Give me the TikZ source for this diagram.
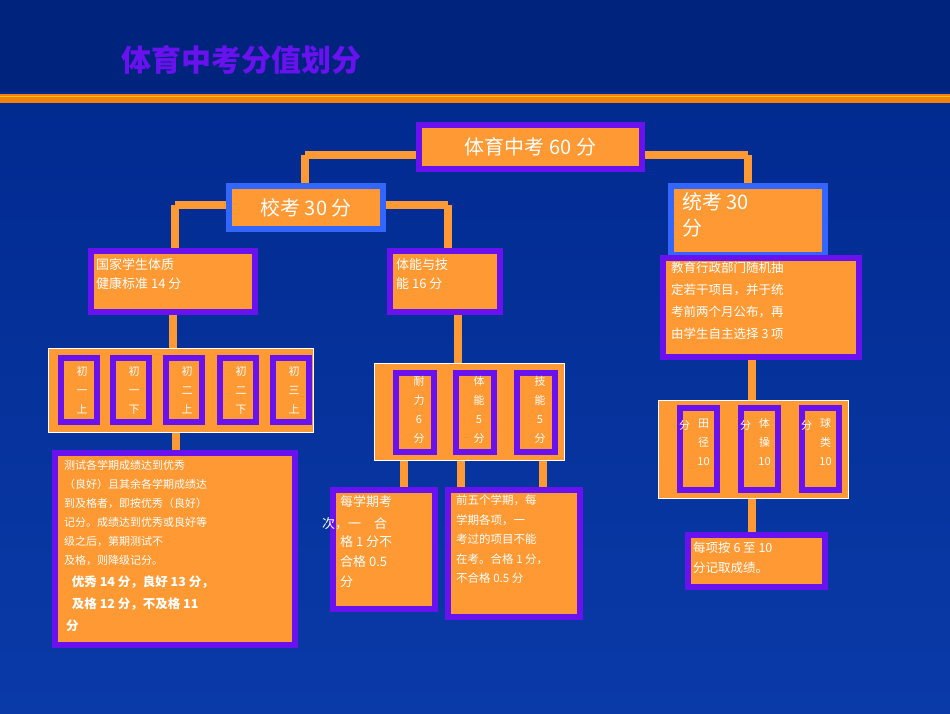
\documentclass[tikz,border=0pt]{standalone}
\usepackage{fontspec}
\setmainfont{Liberation Sans}
\newfontfamily\cjk{Noto Sans CJK SC}
\begin{document}
\begin{tikzpicture}[x=1pt,y=-1pt,
  bx/.style={draw=pur,line width=6pt,fill=org,inner sep=0pt},
  bbx/.style={draw=blu,line width=6pt,fill=org,inner sep=0pt},
  grp/.style={draw=white,line width=0.8pt,fill=org},
  conn/.style={draw=org,line width=8pt},
  wt/.style={text=white,font=\cjk,align=left,anchor=north west,inner sep=0pt}]
\definecolor{pur}{HTML}{6A11F0}
\definecolor{org}{HTML}{FF9933}
\definecolor{blu}{HTML}{3366FF}
\definecolor{navy}{HTML}{00288C}
\definecolor{navyl}{HTML}{0A3AA8}
\useasboundingbox (0,0) rectangle (950,713);
\shade[top color=navy,bottom color=navyl] (0,0) rectangle (950,713);
\fill[navy!90!black] (0,0) rectangle (950,92);
\fill[orange!80!brown] (0,94) rectangle (950,103);
\draw[yellow!60!orange,line width=1pt] (0,96) -- (950,96);
\node[text=pur,font=\cjk\bfseries\fontsize{30}{32}\selectfont,anchor=west] (title) at (118,60) {体育中考分值划分};
% connectors
\coordinate (c1) at (305,155); \coordinate (c2) at (748,155);
\coordinate (c3) at (175,205); \coordinate (c4) at (448,205);
\draw[conn] (c1) -- (c2);
\draw[conn] (c1) -- (305,186);
\draw[conn] (c2) -- (748,186);
\draw[conn] (c3) -- (c4);
\draw[conn] (c3) -- (175,250);
\draw[conn] (c4) -- (448,250);
\draw[conn] (173,315) -- (173,350);
\draw[conn] (176,430) -- (176,452);
\draw[conn] (458,315) -- (458,365);
\draw[conn] (404,458) -- (404,490);
\draw[conn] (461,458) -- (461,490);
\draw[conn] (543,458) -- (543,490);
\draw[conn] (752,360) -- (752,402);
\draw[conn] (752,496) -- (752,534);
% boxes
\node[bx,minimum width=223pt,minimum height=44pt] (top) at (530.5,147) {};
\node[text=white,font=\cjk\fontsize{20}{22}\selectfont] at (top) {体育中考 60 分};
\node[bbx,minimum width=154pt,minimum height=43pt] (xk) at (306,207.5) {};
\node[text=white,font=\cjk\fontsize{20}{22}\selectfont] at (xk) {校考 30 分};
\node[bbx,minimum width=154pt,minimum height=69pt] (tk) at (748,220.5) {};
\node[wt,font=\cjk\fontsize{20}{26}\selectfont] at (682,192) {统考 30\\分};
\node[bx,minimum width=164pt,minimum height=61pt] (gj) at (173,281.5) {};
\node[wt,font=\cjk\fontsize{13}{19}\selectfont] at (96,258) {国家学生体质\\健康标准 14 分};
\node[bx,minimum width=110pt,minimum height=61pt] (tn) at (445,281.5) {};
\node[wt,font=\cjk\fontsize{13}{19}\selectfont] at (396,258) {体能与技\\能 16 分};
\node[bx,minimum width=196pt,minimum height=99pt] (jy) at (761,307.5) {};
\node[wt,font=\cjk\fontsize{12.5}{22}\selectfont] at (671,262) {教育行政部门随机抽\\定若干项目，并于统\\考前两个月公布，再\\由学生自主选择 3 项};
% group chu
\node[grp,minimum width=265pt,minimum height=84pt,inner sep=0pt] (g1) at (180.5,390) {};
\foreach \x/\t [count=\i] in {79/初\\一\\上,131/初\\一\\下,184/初\\二\\上,238/初\\二\\下,291/初\\三\\上}{
  \node[bx,minimum width=36pt,minimum height=64pt] (ch\i) at (\x,390) {};
  \node[text=white,font=\cjk\fontsize{11}{19}\selectfont,align=center] at (\x+3,390) {\t};
}
\node[bx,minimum width=240pt,minimum height=192pt] (cs) at (175,549) {};
\node[wt,font=\cjk\fontsize{11}{19}\selectfont] at (64,460) {测试各学期成绩达到优秀\\（良好）且其余各学期成绩达\\到及格者，即按优秀（良好）\\记分。成绩达到优秀或良好等\\级之后，第期测试不\\及格，则降级记分。};
\node[wt,font=\cjk\bfseries\fontsize{12.5}{22}\selectfont] at (66,575) {\ \ 优秀 14 分，良好 13 分，\\\ \ 及格 12 分，不及格 11\\分};
% group naili
\node[grp,minimum width=190pt,minimum height=97pt,inner sep=0pt] (g2) at (469,411.5) {};
\foreach \x/\t [count=\i] in {415/耐\\力\\6\\分,475/体\\能\\5\\分,536/技\\能\\5\\分}{
  \node[bx,minimum width=38pt,minimum height=79pt] (nl\i) at (\x,412.5) {};
  \node[text=white,font=\cjk\fontsize{11}{19}\selectfont,align=center] at (\x+4,410) {\t};
}
\node[bx,minimum width=102pt,minimum height=119pt] (mx) at (384,549.5) {};
\node[wt,font=\cjk\fontsize{13}{20}\selectfont] at (340,495) {每学期考\\\ \\格 1 分不\\合格 0.5\\分};
\node[wt,font=\cjk\fontsize{13}{20}\selectfont] at (322,517) {次，一\quad 合};
\node[bx,minimum width=132pt,minimum height=127pt] (qw) at (514,553.5) {};
\node[wt,font=\cjk\fontsize{11.5}{19.5}\selectfont] at (456,495) {前五个学期，每\\学期各项，一\\考过的项目不能\\在考。合格 1 分，\\不合格 0.5 分};
% group tianjing
\node[grp,minimum width=190pt,minimum height=98pt,inner sep=0pt] (g3) at (753,449) {};
\foreach \x/\t [count=\i] in {698.5/田\\径\\10,759.5/体\\操\\10,820.5/球\\类\\10}{
  \node[bx,minimum width=37pt,minimum height=82pt] (tj\i) at (\x,449) {};
  \node[text=white,font=\cjk\fontsize{11}{19}\selectfont,align=center] at (\x+5,442) {\t};
  \node[text=white,font=\cjk\fontsize{11}{13}\selectfont] at (\x-14,425) {分};
}
\node[bx,minimum width=137pt,minimum height=52pt] (mxa) at (756.5,561) {};
\node[wt,font=\cjk\fontsize{12.5}{20}\selectfont] at (693,542) {每项按 6 至 10\\分记取成绩。};
\end{tikzpicture}
\end{document}
